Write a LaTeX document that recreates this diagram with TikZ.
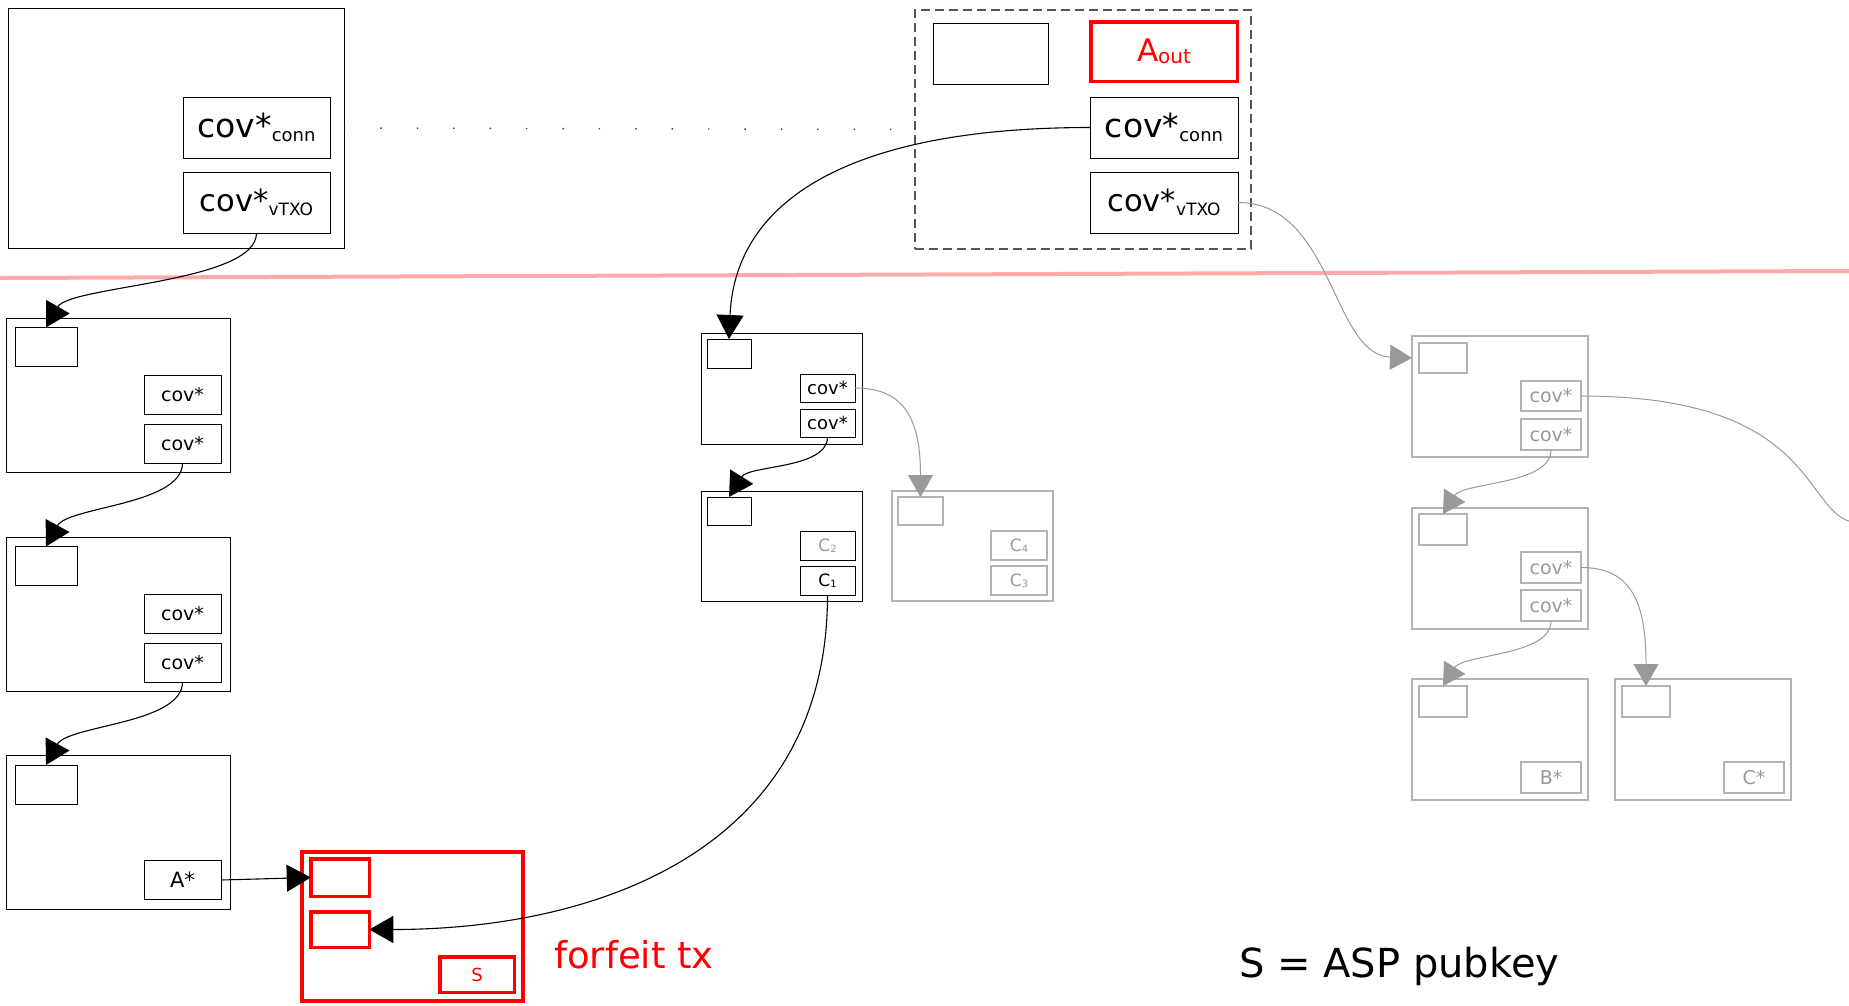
\documentclass[tikz,border=0pt]{standalone}
\usepackage{fontspec}
\setmainfont{DejaVu Sans}
\usetikzlibrary{arrows.meta}
\definecolor{gbord}{HTML}{B3B3B3}
\definecolor{gtext}{HTML}{999999}
\definecolor{garrow}{HTML}{999999}
\definecolor{sepred}{HTML}{FFAAAA}
\definecolor{dashgray}{HTML}{555555}
\newcommand{\myfs}[1]{\fontsize{#1}{#1}\selectfont}
\begin{document}
\begin{tikzpicture}[x=1pt,y=-1pt,
  sz/.style 2 args={minimum width=#1pt,minimum height=#2pt},
  bx/.style={draw=black,line width=1pt,inner sep=0pt,outer sep=0pt},
  gbx/.style={draw=gbord,line width=1.1pt,inner sep=0pt,outer sep=0pt,text=gtext},
  rbx/.style={draw=red,line width=3.5pt,inner sep=0pt,outer sep=0pt,text=red},
  dbx/.style={draw=dashgray,line width=1.8pt,dash pattern=on 9pt off 5pt,inner sep=0pt,outer sep=0pt},
  conn/.style={draw=black,line width=1.1pt,-{Triangle[length=24pt,width=27pt]}},
  gconn/.style={draw=garrow,line width=1pt,-{Triangle[length=22pt,width=25pt]}},
  gline/.style={draw=garrow,line width=1pt},
  dots/.style={draw=black!75,line width=1.4pt,dash pattern=on 1.4pt off 35pt},
  small/.style={font=\myfs{19}},
  tiny/.style={font=\myfs{18}}
]
\useasboundingbox (0,0) rectangle (1849,1005);
\fill[white] (0,0) rectangle (1849,1005);
\clip (0,0) rectangle (1849,1005);

% separator
\draw[sepred,line width=4pt] (0,278) -- (1849,271);

% top left transaction
\node[bx,sz={336}{240}] (tl) at (176,128) {};
\node[bx,sz={147}{61}] (tlc) at (256.5,127.5) {\myfs{33}cov*\raisebox{-3.5pt}{\myfs{18}conn}};
\node[bx,sz={147}{61}] (tlv) at (256.5,202.5) {\myfs{30.5}cov*\raisebox{-3.5pt}{\myfs{17}vTXO}};

% dashed transaction
\node[dbx,sz={336}{239}] (d) at (1083,129.5) {};
\node[bx,sz={115}{61}] (de) at (990.5,53.5) {};
\node[rbx,sz={146.5}{59.5}] (aout) at (1164,51.5) {\myfs{31}A\raisebox{-1.5pt}{\myfs{20}out}};
\node[bx,sz={148}{61}] (dc) at (1164,127.5) {\myfs{33}cov*\raisebox{-3.5pt}{\myfs{18}conn}};
\node[bx,sz={148}{61}] (dv) at (1164,202.5) {\myfs{30.5}cov*\raisebox{-3.5pt}{\myfs{17}vTXO}};

\draw[dots] (tl.east) -- (d.west);

% left column
\node[bx,sz={224}{154}] (l1) at (118,395) {};
\node[bx,sz={62}{39}] (l1i) at (46,347) {};
\node[bx,sz={77}{39},small] (l1a) at (182.5,395) {cov*};
\node[bx,sz={77}{39},small] (l1b) at (182.5,443.5) {cov*};

\node[bx,sz={224}{154}] (l2) at (118,614) {};
\node[bx,sz={62}{39}] (l2i) at (46,566) {};
\node[bx,sz={77}{39},small] (l2a) at (182.5,614) {cov*};
\node[bx,sz={77}{39},small] (l2b) at (182.5,662.5) {cov*};

\node[bx,sz={224}{154}] (l3) at (118,832.5) {};
\node[bx,sz={62}{39}] (l3i) at (46,784.5) {};
\node[bx,sz={77}{39},font=\myfs{21}] (astar) at (182.5,880) {A*};

% forfeit tx
\node[rbx,sz={221}{149}] (f) at (412.5,926.5) {};
\node[rbx,sz={58.5}{37.5}] (f1) at (340,877.5) {};
\node[rbx,sz={58.5}{35.5}] (f2) at (340,929.5) {};
\node[rbx,sz={74.5}{35.5},font=\myfs{18}] (fs) at (477,974.5) {S};
\node[anchor=base west,inner sep=0pt,text=red,font=\myfs{37}] (ftx) at (554,968) {forfeit tx};

% middle column
\node[bx,sz={161}{111}] (m1) at (781.5,388.5) {};
\node[bx,sz={44}{29}] (m1i) at (729,353.5) {};
\node[bx,sz={55}{28},tiny] (m1a) at (827.5,388) {cov*};
\node[bx,sz={55}{28},tiny] (m1b) at (827.5,423) {cov*};

\node[bx,sz={161}{110}] (m2) at (781.5,546) {};
\node[bx,sz={44}{28}] (m2i) at (729,511) {};
\node[bx,sz={55}{29},text=gtext] (c2) at (827.5,545.5) {\myfs{17}C\raisebox{-0.5pt}{\myfs{10}2}};
\node[bx,sz={55}{29}] (c1) at (827.5,580.5) {\myfs{17}C\raisebox{-0.5pt}{\myfs{10}1}};

\node[gbx,sz={161}{110}] (m3) at (972.5,546) {};
\node[gbx,sz={45}{28}] (m3i) at (920.5,511) {};
\node[gbx,sz={56}{29}] (c4) at (1019,545.5) {\myfs{17}C\raisebox{-0.5pt}{\myfs{10}4}};
\node[gbx,sz={56}{29}] (c3) at (1019,580.5) {\myfs{17}C\raisebox{-0.5pt}{\myfs{10}3}};

% right column
\node[gbx,sz={176}{121}] (r1) at (1500,396.5) {};
\node[gbx,sz={48}{30}] (r1i) at (1443,358) {};
\node[gbx,sz={60}{30},small] (r1a) at (1551,396) {cov*};
\node[gbx,sz={60}{31},small] (r1b) at (1551,434.5) {cov*};

\node[gbx,sz={176}{121}] (r2) at (1500,568.5) {};
\node[gbx,sz={48}{31}] (r2i) at (1443,529.5) {};
\node[gbx,sz={60}{31},small] (r2a) at (1551,567.5) {cov*};
\node[gbx,sz={60}{31},small] (r2b) at (1551,605.5) {cov*};

\node[gbx,sz={176}{121}] (r3) at (1500,739.5) {};
\node[gbx,sz={48}{31}] (r3i) at (1443,701.5) {};
\node[gbx,sz={60}{31},small] (bstar) at (1551,777.5) {B*};

\node[gbx,sz={176}{121}] (r4) at (1703,739.5) {};
\node[gbx,sz={48}{31}] (r4i) at (1646,701.5) {};
\node[gbx,sz={60}{31},small] (cstar) at (1754,777.5) {C*};

\coordinate (offr) at (1862,523);

% legend
\node[anchor=base west,inner sep=0pt,font=\myfs{40}] (legend) at (1239,977) {S = ASP pubkey};

% black connectors
\draw[conn] (tlv.south) .. controls +(0,50) and +(24,-42) .. (l1i.north);
\draw[conn] (l1b.south) .. controls +(0,42) and +(22,-40) .. (l2i.north);
\draw[conn] (l2b.south) .. controls +(0,42) and +(22,-40) .. (l3i.north);
\draw[conn] (astar.east) -- (f1.west);
\draw[conn] (c1.south) .. controls +(0,255) and +(228,0) .. (f2.east);
\draw[conn] (dc.west) .. controls +(-240,0) and +(6,-139) .. (m1i.north);
\draw[conn] (m1b.south) .. controls +(0,32) and +(20,-32) .. (m2i.north);

% gray connectors
\draw[gconn] (m1a.east) .. controls +(50,0) and +(0,-77) .. (m3i.north);
\draw[gconn] (dv.east) .. controls +(95,0) and +(-80,-3) .. (r1i.west -| r1.west);
\draw[gconn] (r1b.south) .. controls +(0,35) and +(20,-32) .. (r2i.north);
\draw[gconn] (r2b.south) .. controls +(0,35) and +(20,-32) .. (r3i.north);
\draw[gconn] (r2a.east) .. controls +(49,0) and +(0,-86) .. (r4i.north);
\draw[gline] (r1a.east) .. controls +(249,0) and +(-62,2) .. (offr);
\end{tikzpicture}
\end{document}
